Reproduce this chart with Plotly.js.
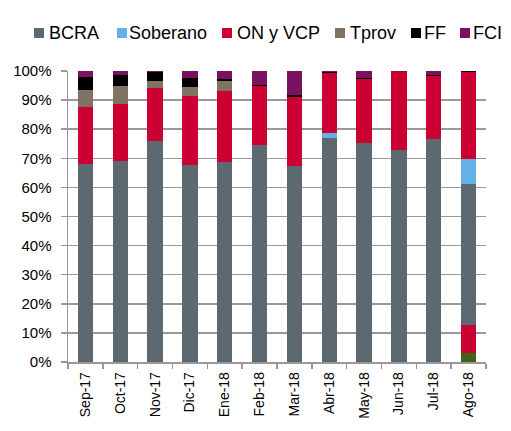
<!DOCTYPE html>
<html>
<head>
<meta charset="utf-8">
<script src="https://cdn.plot.ly/plotly-3.0.1.min.js"></script>
<style>html,body{margin:0;padding:0;background:#fff;}#chart{width:511px;height:431px;}</style>
</head>
<body>
<div id="chart"></div>
<script>
const categories = ["Sep-17","Oct-17","Nov-17","Dic-17","Ene-18","Feb-18","Mar-18","Abr-18","May-18","Jun-18","Jul-18","Ago-18"];
const otroVerde = [0,0,0,0,0,0,0,0,0,0,0,3.1];
const otroRojo  = [0,0,0,0,0,0,0,0,0,0,0,9.7];
const bcra      = [68.2,69.0,75.9,67.8,68.7,74.5,67.4,77.0,75.3,73.0,76.8,48.2];
const soberano  = [0,0,0,0,0,0,0,1.7,0,0,0,8.6];
const onVcp     = [19.4,19.6,18.4,23.7,24.6,20.2,23.7,20.5,21.8,26.5,21.5,29.9];
const tprov     = [6.0,6.1,2.2,2.9,3.1,0,0,0,0,0,0,0];
const ff        = [4.3,3.8,3.2,3.1,0.8,0.6,0.7,0.3,0.4,0,0.2,0.5];
const fci       = [2.1,1.5,0.4,2.6,2.8,4.7,8.2,0.4,2.4,0.5,1.5,0];
const yTicks = [0,10,20,30,40,50,60,70,80,90,100];
const yTickLabels = ["0%","10%","20%","30%","40%","50%","60%","70%","80%","90%","100%"];
const legendNames = ["BCRA","Soberano","ON y VCP","Tprov","FF","FCI"];
const legendColors = ["#5D6970","#63B1E5","#CC0033","#807363","#000000","#7B1160"];

// plot area geometry (pixels) used to place the custom legend
const M = {l:68, r:25, t:71, b:69};
const W = 511, H = 431;
const pw = W - M.l - M.r, ph = H - M.t - M.b;
const px = x => (x - M.l) / pw;
const py = y => (H - M.b - y) / ph;
const legendSquareX = [34, 117, 222, 335, 411, 460];
const legendTextX   = [47, 127, 235, 348, 422, 471];

function tr(name, vals, color){
  return {type:'bar', name:name, x:categories, y:vals, marker:{color:color}, showlegend:false, hoverinfo:'skip'};
}
const data = [
  tr('Otro', otroVerde, '#3F6318'),
  tr('ON y VCP (2)', otroRojo, '#CC0033'),
  tr(legendNames[0], bcra, legendColors[0]),
  tr(legendNames[1], soberano, legendColors[1]),
  tr(legendNames[2], onVcp, legendColors[2]),
  tr(legendNames[3], tprov, legendColors[3]),
  tr(legendNames[4], ff, legendColors[4]),
  tr(legendNames[5], fci, legendColors[5])
];
const shapes = legendNames.map((n,i)=>({type:'rect', xref:'paper', yref:'paper',
  x0:px(legendSquareX[i]), x1:px(legendSquareX[i]+10), y0:py(38), y1:py(28),
  fillcolor:legendColors[i], line:{width:0}}));
const annotations = legendNames.map((n,i)=>({xref:'paper', yref:'paper', x:px(legendTextX[i]), y:py(33),
  xanchor:'left', yanchor:'middle', text:n, showarrow:false,
  font:{size:18, family:'Liberation Sans, Arial, sans-serif', color:'#000'}}));

const layout = {
  width:W, height:H,
  margin:M,
  barmode:'stack', bargap:0.56,
  paper_bgcolor:'#fff', plot_bgcolor:'#fff',
  font:{family:'Liberation Sans, Arial, sans-serif', color:'#000'},
  showlegend:false,
  shapes:shapes, annotations:annotations,
  xaxis:{type:'category', tickangle:-90, tickfont:{size:14}, showline:true, linecolor:'#999', linewidth:1.5,
         ticks:'outside', tickson:'boundaries', ticklen:5, tickcolor:'#999', tickwidth:1.5, showgrid:false, fixedrange:true,
         ticklabelstandoff:3},
  yaxis:{range:[0,100], tickvals:yTicks, ticktext:yTickLabels, tickfont:{size:15}, showgrid:true, gridcolor:'#999', gridwidth:1.5,
         showline:true, linecolor:'#999', linewidth:1.5, ticks:'outside', ticklen:6, tickcolor:'#999', tickwidth:1.5, zeroline:false, fixedrange:true,
         ticklabelstandoff:6}
};
Plotly.newPlot('chart', data, layout, {staticPlot:true, displayModeBar:false});
</script>
</body>
</html>
